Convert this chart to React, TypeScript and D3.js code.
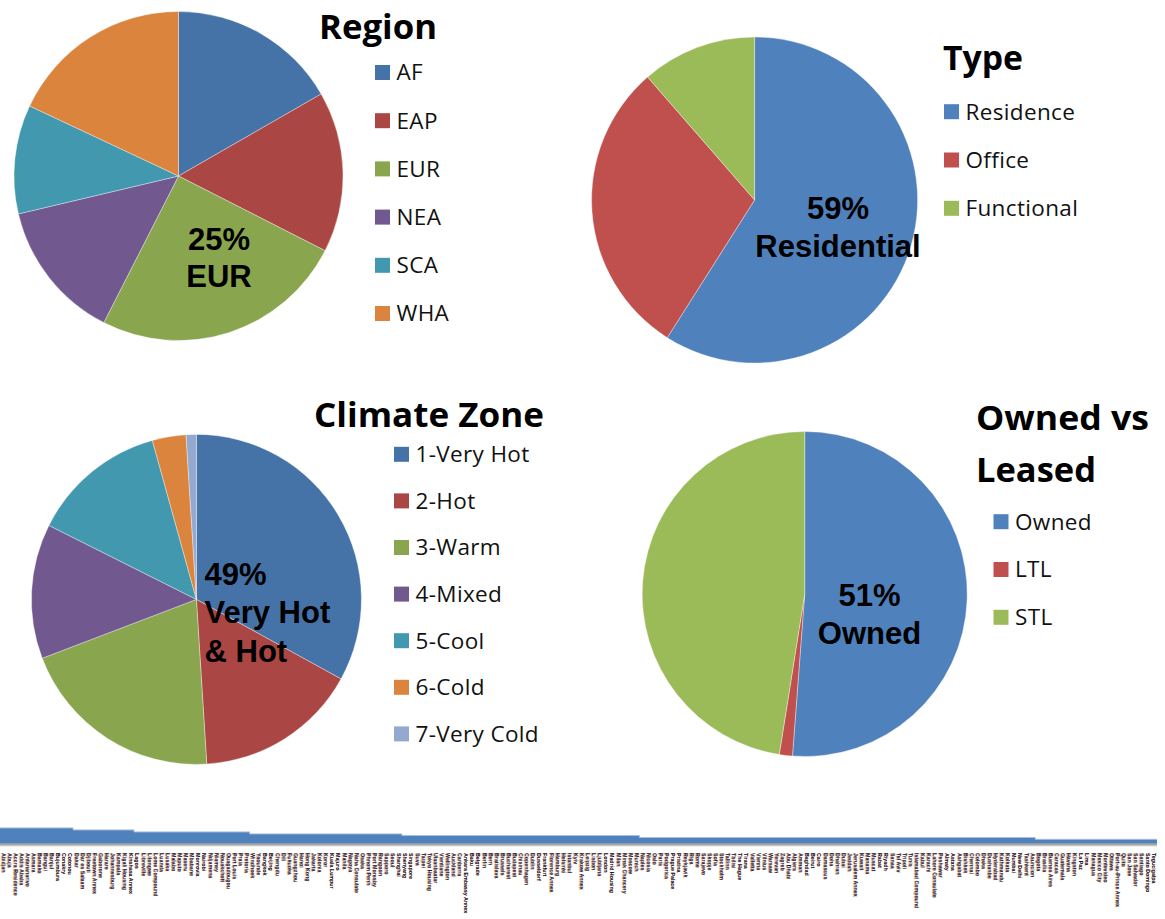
import React from "react";
import * as d3 from "d3";

// ---- Data ----
const regionNames = ["AF", "EAP", "EUR", "NEA", "SCA", "WHA"];
const regionShares = [16.7, 15.8, 25.0, 13.8, 10.7, 18.0];

const typeNames = ["Residence", "Office", "Functional"];
const typeShares = [59.0, 29.6, 11.4];

const climateNames = ["1-Very Hot", "2-Hot", "3-Warm", "4-Mixed", "5-Cool", "6-Cold", "7-Very Cold"];
const climateShares = [33.0, 16.0, 20.2, 13.2, 13.3, 3.3, 1.0];

const tenureNames = ["Owned", "LTL", "STL"];
const tenureShares = [51.2, 1.3, 47.5];

// Group sizes (number of posts) and relative levels of the stepped band
const bandGroupCounts = [12, 10, 19, 25, 39, 65, 20];
const bandGroupLevels = [7.8, 6.8, 5.8, 4.8, 4.0, 3.0, 2.1];

const postLabels = [
  "Abidjan", "Abuja", "Accra Residence", "Addis Ababa", "Antananarivo", "Asmara", "Bamako", "Bangui",
  "Banjul", "Bujumbura", "Conakry", "Cotonou", "Dakar", "Dar es Salaam", "Djibouti", "Freetown Annex",
  "Gaborone", "Harare", "Johannesburg", "Kampala", "Kigali Housing", "Kinshasa Annex", "Lagos",
  "Libreville", "Lilongwe", "Lome Compound", "Luanda", "Lusaka", "Malabo", "Maputo", "Maseru",
  "Mbabane", "Monrovia", "Nairobi", "Ndjamena", "Niamey", "Nouakchott", "Ouagadougou", "Port Louis", "Praia",
  "Pretoria", "Windhoek", "Yaounde", "Bangkok", "Beijing", "Chengdu", "Dili", "Fukuoka", "Guangzhou", "Hanoi",
  "Hong Kong", "Jakarta", "Kolonia", "Koror", "Kuala Lumpur", "Majuro", "Manila", "Nagoya",
  "Naha Consulate", "Osaka", "Phnom Penh", "Port Moresby", "Rangoon", "Sapporo", "Seoul", "Shanghai",
  "Shenyang", "Singapore", "Suva", "Taipei", "Tokyo Housing", "Ulaanbaatar", "Vientiane",
  "Wellington", "Auckland", "Canberra", "Ankara Embassy Annex", "Baku", "Belgrade", "Berlin", "Bern",
  "Bratislava", "Brussels", "Bucharest", "Budapest", "Chisinau", "Copenhagen", "Dublin", "Dusseldorf",
  "Frankfurt", "Florence Annex", "Hamburg", "Helsinki", "Istanbul", "Kyiv", "Krakow Annex",
  "Leipzig", "Lisbon", "Ljubljana", "London", "Madrid Housing", "Milan", "Minsk Chancery",
  "Moscow", "Munich", "Naples", "Nicosia", "Oslo", "Paris", "Podgorica", "Prague Palace",
  "Pristina", "Reykjavik", "Riga", "Rome", "Sarajevo", "Skopje", "Sofia", "Stockholm", "Tallinn", "Tbilisi",
  "The Hague", "Tirana", "Valletta", "Vienna", "Vilnius", "Warsaw", "Yerevan", "Zagreb", "Abu Dhabi",
  "Algiers", "Amman", "Baghdad", "Beirut", "Cairo", "Damascus", "Doha", "Dhahran", "Dubai", "Jeddah",
  "Jerusalem Annex", "Kuwait", "Manama", "Muscat", "Rabat", "Riyadh", "Sanaa", "Tel Aviv", "Tripoli",
  "Tunis", "Islamabad Compound", "Kabul", "Karachi", "Lahore Consulate", "Peshawar",
  "Almaty", "Astana", "Ashgabat", "Bishkek", "Chennai", "Colombo", "Dhaka", "Dushanbe", "Hyderabad",
  "Kathmandu", "Kolkata", "Mumbai", "New Delhi", "Tashkent", "Asuncion", "Bogota", "Brasilia",
  "Buenos Aires", "Caracas", "Guatemala", "Havana", "Kingston", "La Paz", "Lima", "Managua", "Mexico City",
  "Montevideo", "Ottawa", "Port-au-Prince Annex", "Quito", "San Jose", "San Salvador", "Santiago",
  "Santo Domingo", "Tegucigalpa",
];

// ---- Palettes ----
const darkPalette = ["#4572A7", "#AA4643", "#89A54E", "#71588F", "#4198AF", "#DB843D", "#93A9CF"];
const brightPalette = ["#4F81BD", "#C0504D", "#9BBB59"];

const TITLE_FONT = "'Open Sans', 'DejaVu Sans', sans-serif";
const LEGEND_FONT = "'Open Sans', 'DejaVu Sans', sans-serif";
const LABEL_FONT = "'Liberation Sans', Arial, sans-serif";

type PieProps = {
  cx: number;
  cy: number;
  r: number;
  values: number[];
  colors: string[];
};

function Pie({ cx, cy, r, values, colors }: PieProps) {
  const pie = d3.pie<number>().sort(null).value((d) => d).startAngle(0).endAngle(2 * Math.PI);
  const arc = d3.arc<d3.PieArcDatum<number>>().innerRadius(0).outerRadius(r);
  const arcs = pie(values);
  return (
    <g transform={`translate(${cx},${cy})`}>
      {arcs.map((a, i) => (
        <path key={i} d={arc(a) || ""} fill={colors[i]} stroke="#ffffff" strokeWidth={0.6} strokeOpacity={0.6} />
      ))}
    </g>
  );
}

type LegendProps = {
  x: number;
  y0: number;
  step: number;
  names: string[];
  colors: string[];
};

function Legend({ x, y0, step, names, colors }: LegendProps) {
  return (
    <g>
      {names.map((n, i) => {
        const cy = y0 + i * step;
        return (
          <g key={n}>
            <rect x={x} y={cy - 7.5} width={15} height={15} fill={colors[i]} />
            <text
              x={x + 21.5}
              y={cy + 7.8}
              fontFamily={LEGEND_FONT}
              fontSize={22.5}
              letterSpacing={0.35}
              fill="#111"
            >
              {n}
            </text>
          </g>
        );
      })}
    </g>
  );
}

type TitleLine = { text: string; width: number };

function Title({ x, y, lines, lineGap = 52 }: { x: number; y: number; lines: TitleLine[]; lineGap?: number }) {
  return (
    <g fontFamily={TITLE_FONT} fontWeight={700} fontSize={34.5} fill="#000">
      {lines.map((l, i) => (
        <text key={i} x={x} y={y + i * lineGap} textLength={l.width} lengthAdjust="spacingAndGlyphs">
          {l.text}
        </text>
      ))}
    </g>
  );
}

function BoldLabel({
  x,
  y,
  lines,
  anchor = "middle",
  gap = 38,
}: {
  x: number;
  y: number;
  lines: string[];
  anchor?: "middle" | "start";
  gap?: number;
}) {
  return (
    <text fontFamily={LABEL_FONT} fontWeight={700} fontSize={31} fill="#000" textAnchor={anchor}>
      {lines.map((l, i) => (
        <tspan key={i} x={x} y={y + i * gap}>
          {l}
        </tspan>
      ))}
    </text>
  );
}

const pct = (values: number[], idx: number[]) => {
  const total = d3.sum(values);
  return `${Math.round((d3.sum(idx.map((i) => values[i])) / total) * 100)}%`;
};

function PostStrip() {
  const width = 1157;
  const x = d3.scaleBand<number>().domain(d3.range(postLabels.length)).range([0, width]).paddingInner(0);
  const y = d3.scaleLinear().domain([0, 8]).range([843.5, 827.5]);

  // cumulative boundaries of band groups in post-index units
  const bounds = [0, ...d3.cumsum(bandGroupCounts)];
  const colX = d3.scaleLinear().domain([0, postLabels.length]).range([0, width]);
  const pts: [number, number][] = bandGroupLevels.map((v, i) => [bounds[i], v]);
  pts.push([bounds[bounds.length - 1], bandGroupLevels[bandGroupLevels.length - 1]]);

  const area = d3
    .area<[number, number]>()
    .x((d) => colX(d[0]))
    .y0(y(0))
    .y1((d) => y(d[1]))
    .curve(d3.curveStepAfter);
  const topLine = d3
    .line<[number, number]>()
    .x((d) => colX(d[0]))
    .y((d) => y(d[1]))
    .curve(d3.curveStepAfter);

  return (
    <g>
      <defs>
        <linearGradient id="bandShadow" x1="0" x2="0" y1="0" y2="1">
          <stop offset="0" stopColor="#7d7d7d" />
          <stop offset="1" stopColor="#ffffff" />
        </linearGradient>
      </defs>
      <path d={area(pts) || ""} fill="#4F81BD" />
      <path d={topLine(pts) || ""} fill="none" stroke="#a8bfdf" strokeWidth={1} />
      <rect x={0} y={y(0)} width={width} height={3.5} fill="url(#bandShadow)" />
      {postLabels.map((name, i) => {
        const px = (x(i) || 0) + 1.5;
        return (
          <g key={i} fontFamily={LABEL_FONT} fontSize={5.3} fontWeight={700}>
            <text transform={`translate(${px - 0.8},853) rotate(90)`} fill="#c98a3a" opacity={0.9}>
              {name}
            </text>
            <text transform={`translate(${px},853) rotate(90)`} fill="#1c1745">
              {name}
            </text>
          </g>
        );
      })}
    </g>
  );
}

export default function App() {
  return (
    <svg
      width={1165}
      height={919}
      viewBox="0 0 1165 919"
      style={{ position: "absolute", left: 0, top: 0, background: "#ffffff" }}
    >
      <rect width={1165} height={919} fill="#ffffff" />

      {/* Region */}
      <Pie cx={178.5} cy={176} r={164.5} values={regionShares} colors={darkPalette} />
      <Title x={319} y={39} lines={[{ text: "Region", width: 118 }]} />
      <Legend x={375} y0={72.5} step={48.2} names={regionNames} colors={darkPalette} />
      <BoldLabel x={219} y={250} gap={37} lines={[pct(regionShares, [2]), "EUR"]} />

      {/* Type */}
      <Pie cx={754.6} cy={200} r={163} values={typeShares} colors={brightPalette} />
      <Title x={943} y={70} lines={[{ text: "Type", width: 80 }]} />
      <Legend x={944} y0={111.7} step={48.3} names={typeNames} colors={brightPalette} />
      <BoldLabel x={838} y={218.5} gap={38.5} lines={[pct(typeShares, [0]), "Residential"]} />

      {/* Climate Zone */}
      <Pie cx={196.4} cy={599.4} r={165} values={climateShares} colors={darkPalette} />
      <Title x={314} y={427} lines={[{ text: "Climate Zone", width: 230 }]} />
      <Legend x={394} y0={454.3} step={46.6} names={climateNames} colors={darkPalette} />
      <BoldLabel x={204.5} y={585} gap={38.3} anchor="start" lines={[pct(climateShares, [0, 1]), "Very Hot", "& Hot"]} />

      {/* Owned vs Leased */}
      <Pie cx={804.7} cy={594} r={162.5} values={tenureShares} colors={brightPalette} />
      <Title
        x={976}
        y={430}
        lineGap={52}
        lines={[
          { text: "Owned vs", width: 173 },
          { text: "Leased", width: 120 },
        ]}
      />
      <Legend x={993.5} y0={521.7} step={47.8} names={tenureNames} colors={brightPalette} />
      <BoldLabel x={869.5} y={606} gap={38.3} lines={[pct(tenureShares, [0]), "Owned"]} />

      <PostStrip />
    </svg>
  );
}
